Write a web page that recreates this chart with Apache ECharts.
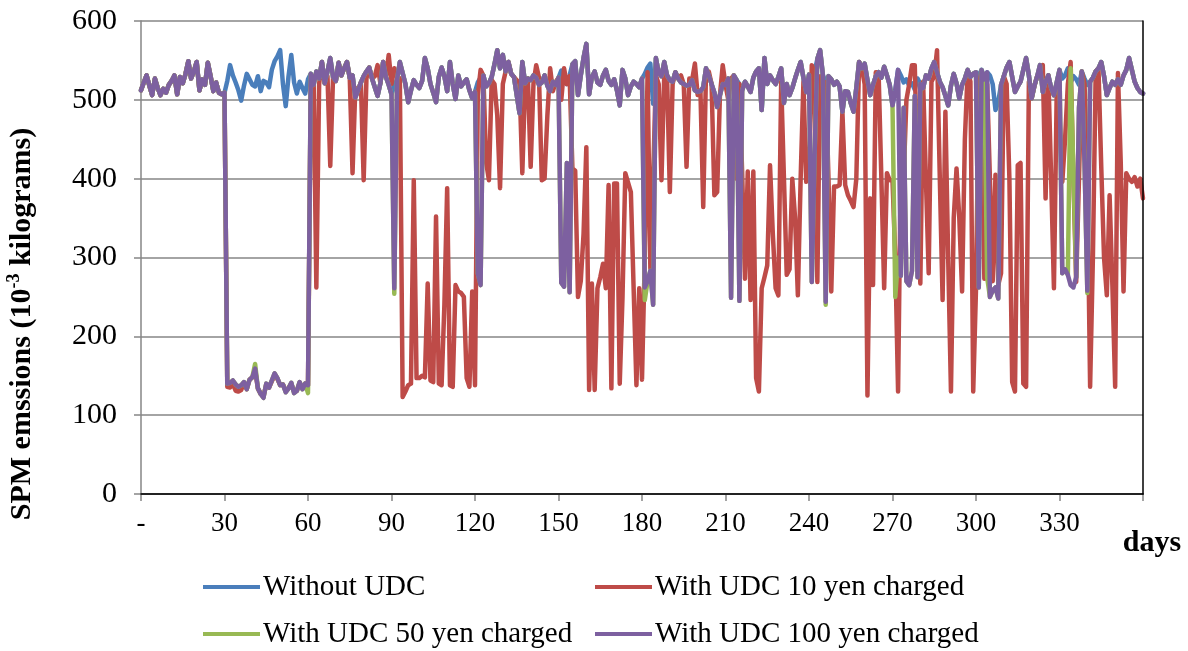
<!DOCTYPE html>
<html>
<head>
<meta charset="utf-8">
<title>SPM emissions by day</title>
<script src="https://cdn.jsdelivr.net/npm/echarts@6/dist/echarts.min.js"></script>
<style>
  html, body { margin: 0; padding: 0; background: #fff; }
  #chart { width: 1188px; height: 651px; }
</style>
</head>
<body>
<div id="chart"></div>
<script>
// Day index of each daily observation (0 .. 360)
const days = Array.from({ length: 361 }, (_, i) => i);

// Daily SPM emissions (10^-3 kg), one row per 30 days
const withoutUdc = [
  512, 522, 531, 518, 506, 527, 515, 506, 514, 509, 519, 524, 531, 507, 529, 521, 533, 549, 527, 536, 548, 512, 526, 519, 547, 530, 511, 522, 509, 507,
  509, 524, 544, 531, 522, 512, 499, 518, 533, 526, 519, 517, 530, 511, 524, 522, 516, 538, 549, 555, 563, 520, 492, 530, 557, 522, 508, 523, 515, 508,
  526, 533, 519, 536, 527, 548, 521, 536, 553, 529, 524, 547, 531, 540, 548, 528, 531, 503, 512, 522, 530, 536, 541, 527, 516, 505, 521, 548, 529, 519,
  507, 518, 526, 548, 534, 520, 497, 512, 525, 519, 515, 524, 553, 540, 520, 509, 497, 529, 541, 530, 511, 548, 520, 501, 531, 517, 522, 526, 512, 502,
  510, 522, 528, 531, 517, 521, 529, 545, 563, 540, 557, 536, 548, 533, 529, 506, 483, 548, 521, 527, 525, 531, 528, 519, 522, 531, 518, 511, 523, 519,
  528, 537, 526, 520, 531, 545, 549, 506, 531, 553, 571, 507, 529, 536, 522, 519, 531, 538, 524, 519, 526, 512, 493, 538, 527, 506, 517, 523, 520, 516,
  527, 533, 541, 546, 495, 553, 534, 530, 548, 531, 525, 523, 535, 527, 522, 520, 518, 519, 525, 512, 510, 511, 516, 540, 531, 520, 509, 491, 506, 520,
  519, 527, 522, 531, 525, 520, 512, 523, 517, 510, 528, 536, 540, 487, 553, 520, 531, 525, 520, 529, 540, 496, 520, 506, 515, 527, 538, 548, 528, 510,
  532, 526, 535, 552, 563, 531, 522, 530, 526, 519, 523, 517, 485, 511, 510, 496, 485, 515, 548, 540, 546, 525, 506, 519, 530, 535, 528, 542, 531, 519,
  493, 512, 538, 531, 522, 526, 518, 521, 513, 527, 520, 515, 531, 527, 540, 548, 535, 523, 516, 505, 493, 518, 533, 521, 502, 519, 527, 538, 529, 533,
  535, 531, 538, 526, 535, 531, 520, 487, 498, 519, 530, 541, 548, 529, 510, 517, 523, 538, 553, 531, 502, 518, 530, 544, 510, 523, 531, 515, 506, 522,
  538, 527, 531, 540, 522, 530, 526, 519, 536, 527, 519, 523, 528, 536, 540, 548, 530, 506, 515, 523, 519, 526, 519, 531, 538, 553, 538, 523, 515, 510, 508
];

const udc10yen = [
  512, 522, 531, 518, 506, 527, 515, 506, 514, 509, 519, 524, 531, 507, 529, 521, 533, 549, 527, 536, 548, 512, 526, 519, 547, 530, 511, 522, 509, 507,
  509, 136, 135, 140, 131, 130, 132, 141, 133, 145, 148, 157, 134, 127, 124, 139, 135, 143, 150, 146, 138, 139, 131, 134, 140, 130, 131, 141, 134, 140,
  138, 520, 530, 262, 520, 548, 521, 530, 416, 529, 524, 547, 531, 540, 548, 528, 407, 515, 512, 522, 398, 527, 541, 527, 530, 544, 521, 548, 530, 557,
  520, 540, 530, 527, 123, 130, 138, 140, 398, 147, 147, 150, 148, 267, 144, 142, 352, 140, 138, 240, 388, 138, 136, 265, 257, 255, 250, 147, 136, 257,
  138, 505, 538, 531, 421, 398, 525, 520, 480, 388, 520, 536, 548, 533, 529, 525, 520, 407, 521, 527, 415, 520, 544, 528, 398, 400, 480, 540, 511, 523,
  528, 500, 540, 520, 530, 413, 410, 250, 270, 330, 440, 132, 267, 132, 261, 275, 292, 261, 392, 134, 394, 394, 140, 250, 407, 395, 383, 260, 138, 261,
  145, 300, 535, 286, 400, 531, 520, 398, 533, 531, 383, 520, 535, 527, 531, 520, 415, 527, 525, 546, 506, 511, 364, 536, 536, 520, 379, 383, 506, 544,
  519, 500, 527, 531, 400, 520, 405, 273, 409, 246, 409, 147, 130, 261, 275, 290, 417, 330, 261, 252, 523, 400, 278, 285, 400, 350, 252, 400, 523, 396,
  400, 544, 535, 269, 530, 523, 522, 400, 257, 390, 390, 392, 485, 392, 379, 372, 364, 400, 548, 540, 520, 125, 375, 265, 535, 535, 400, 261, 407, 398,
  398, 300, 130, 420, 400, 500, 520, 544, 544, 400, 267, 523, 400, 280, 523, 530, 563, 400, 246, 485, 300, 130, 350, 413, 350, 257, 450, 536, 523, 130,
  260, 520, 535, 273, 520, 400, 270, 405, 265, 280, 530, 520, 400, 142, 130, 417, 420, 140, 136, 523, 502, 518, 530, 536, 544, 375, 531, 400, 261, 510,
  480, 396, 450, 520, 548, 400, 269, 400, 536, 520, 400, 136, 300, 536, 540, 415, 300, 252, 379, 265, 136, 534, 421, 257, 407, 400, 396, 402, 390, 400, 375
];

const udc50yen = [
  512, 522, 531, 518, 506, 527, 515, 506, 514, 509, 519, 524, 531, 507, 529, 521, 533, 549, 527, 536, 548, 512, 526, 519, 547, 530, 511, 522, 509, 507,
  509, 140, 141, 144, 139, 136, 138, 142, 133, 145, 148, 165, 134, 127, 122, 140, 135, 144, 153, 147, 138, 139, 129, 134, 141, 128, 131, 142, 133, 140,
  128, 533, 519, 536, 527, 548, 521, 536, 553, 529, 524, 547, 531, 540, 548, 528, 531, 503, 512, 522, 530, 536, 541, 527, 516, 505, 521, 548, 529, 519,
  507, 254, 526, 548, 534, 520, 497, 512, 525, 519, 515, 524, 553, 540, 520, 509, 497, 529, 541, 530, 511, 548, 520, 501, 531, 517, 522, 526, 512, 502,
  510, 280, 265, 531, 517, 521, 529, 545, 563, 540, 557, 536, 548, 533, 529, 506, 483, 548, 521, 527, 525, 531, 528, 519, 522, 531, 518, 511, 523, 519,
  528, 268, 263, 420, 256, 545, 549, 506, 531, 553, 571, 507, 529, 536, 522, 519, 531, 538, 524, 519, 526, 512, 493, 538, 527, 506, 517, 523, 520, 516,
  527, 246, 270, 283, 240, 553, 534, 530, 548, 531, 525, 523, 535, 527, 522, 520, 518, 519, 525, 512, 510, 511, 516, 540, 531, 520, 509, 491, 506, 520,
  519, 527, 249, 531, 525, 245, 512, 523, 517, 510, 528, 536, 540, 487, 553, 520, 531, 525, 520, 529, 540, 496, 520, 506, 515, 527, 538, 548, 528, 510,
  532, 269, 430, 552, 563, 531, 240, 530, 526, 519, 523, 517, 485, 511, 510, 496, 485, 515, 548, 540, 546, 525, 506, 519, 530, 535, 528, 542, 531, 519,
  493, 250, 300, 277, 490, 270, 265, 283, 505, 275, 520, 515, 531, 527, 540, 548, 535, 523, 516, 505, 493, 518, 533, 521, 502, 519, 527, 538, 529, 533,
  535, 262, 538, 526, 275, 250, 258, 262, 248, 519, 530, 541, 548, 529, 510, 517, 523, 538, 553, 531, 502, 518, 530, 544, 510, 523, 531, 515, 506, 522,
  538, 280, 285, 278, 540, 409, 275, 490, 536, 420, 255, 523, 528, 536, 540, 548, 530, 506, 515, 523, 519, 526, 519, 531, 538, 553, 538, 523, 515, 510, 508
];

const udc100yen = [
  512, 522, 531, 518, 506, 527, 515, 506, 514, 509, 519, 524, 531, 507, 529, 521, 533, 549, 527, 536, 548, 512, 526, 519, 547, 530, 511, 522, 509, 507,
  509, 140, 141, 144, 139, 136, 138, 142, 133, 145, 148, 159, 134, 127, 122, 140, 135, 144, 153, 147, 138, 139, 129, 134, 141, 128, 131, 142, 133, 140,
  138, 533, 519, 536, 527, 548, 521, 536, 553, 529, 524, 547, 531, 540, 548, 528, 531, 503, 512, 522, 530, 536, 541, 527, 516, 505, 521, 548, 529, 519,
  507, 261, 526, 548, 534, 520, 497, 512, 525, 519, 515, 524, 553, 540, 520, 509, 497, 529, 541, 530, 511, 548, 520, 501, 531, 517, 522, 526, 512, 502,
  510, 280, 265, 531, 517, 521, 529, 545, 563, 540, 557, 536, 548, 533, 529, 506, 483, 548, 521, 527, 525, 531, 528, 519, 522, 531, 518, 511, 523, 519,
  528, 268, 263, 420, 256, 545, 549, 506, 531, 553, 571, 507, 529, 536, 522, 519, 531, 538, 524, 519, 526, 512, 493, 538, 527, 506, 517, 523, 520, 516,
  527, 262, 270, 283, 240, 553, 534, 530, 548, 531, 525, 523, 535, 527, 522, 520, 518, 519, 525, 512, 510, 511, 516, 540, 531, 520, 509, 491, 506, 520,
  519, 527, 249, 531, 525, 245, 512, 523, 517, 510, 528, 536, 540, 487, 553, 520, 531, 525, 520, 529, 540, 496, 520, 506, 515, 527, 538, 548, 528, 510,
  532, 269, 430, 552, 563, 531, 244, 530, 526, 519, 523, 517, 485, 511, 510, 496, 485, 515, 548, 540, 546, 525, 506, 519, 530, 535, 528, 542, 531, 519,
  493, 512, 538, 277, 490, 270, 265, 283, 505, 275, 520, 515, 531, 527, 540, 548, 535, 523, 516, 505, 493, 518, 533, 521, 502, 519, 527, 538, 529, 533,
  535, 262, 538, 526, 535, 250, 258, 262, 248, 519, 530, 541, 548, 529, 510, 517, 523, 538, 553, 531, 502, 518, 530, 544, 510, 523, 531, 515, 506, 522,
  538, 280, 285, 278, 265, 262, 275, 490, 536, 420, 258, 523, 528, 536, 540, 548, 530, 506, 515, 523, 519, 526, 519, 531, 538, 553, 538, 523, 515, 510, 508
];

const seriesNames = ['Without UDC', 'With UDC 10 yen charged', 'With UDC 50 yen charged', 'With UDC 100 yen charged'];
const seriesColors = ['#4A7EBB', '#BE4B48', '#98B954', '#7D60A0'];
const seriesValues = [withoutUdc, udc10yen, udc50yen, udc100yen];

const serif = '"Liberation Serif", "Times New Roman", serif';
const axisGray = '#868686';

// One legend block per entry: two columns, two rows under the plot
const legendSlots = [
  { left: 203, top: 572 },
  { left: 595, top: 572 },
  { left: 203, top: 619 },
  { left: 595, top: 619 }
];

const chart = echarts.init(document.getElementById('chart'), null, { renderer: 'canvas' });

chart.setOption({
  animation: false,
  backgroundColor: '#ffffff',
  grid: { left: 141, right: 45, top: 21, bottom: 157, containLabel: false },
  xAxis: [{
    type: 'category',
    data: days,
    boundaryGap: false,
    axisLine: { lineStyle: { color: axisGray, width: 1.5 } },
    axisTick: { interval: 29, length: 7, lineStyle: { color: axisGray, width: 1.5 } },
    axisLabel: {
      interval: 29,
      margin: 16,
      color: '#000',
      fontFamily: serif,
      fontSize: 27,
      formatter: v => (Number(v) === 0 ? '-' : (Number(v) === 360 ? '' : String(v)))
    },
    splitLine: { show: false }
  }, {
    type: 'category',
    data: days,
    position: 'top',
    boundaryGap: false,
    z: 5,
    axisLine: { lineStyle: { color: '#000', width: 1.5 } },
    axisTick: { show: false },
    axisLabel: { show: false },
    splitLine: { show: false }
  }],
  yAxis: [{
    type: 'value',
    min: 0,
    max: 600,
    interval: 100,
    axisLine: { show: true, lineStyle: { color: axisGray, width: 1.5 } },
    axisTick: { show: true, length: 7, lineStyle: { color: axisGray, width: 1.5 } },
    axisLabel: { margin: 24, color: '#000', fontFamily: serif, fontSize: 30 },
    splitLine: { lineStyle: { color: axisGray, width: 1.5 } }
  }, {
    type: 'value',
    position: 'right',
    min: 0,
    max: 600,
    interval: 100,
    z: 5,
    axisLine: { show: true, lineStyle: { color: '#000', width: 1.5 } },
    axisTick: { show: false },
    axisLabel: { show: false },
    splitLine: { show: false }
  }],
  legend: seriesNames.map((name, i) => ({
    data: [name],
    left: legendSlots[i].left,
    top: legendSlots[i].top,
    padding: 0,
    icon: 'rect',
    itemWidth: 57,
    itemHeight: 4,
    itemGap: 0,
    textStyle: { fontFamily: serif, fontSize: 29, color: '#000', lineHeight: 30, padding: [0, 0, 0, -2] }
  })),
  graphic: [{
    type: 'text',
    x: 22,
    y: 324,
    rotation: Math.PI / 2,
    style: {
      text: '{b|SPM emssions (10}{s|-3}{b| kilograms)}',
      align: 'center',
      verticalAlign: 'middle',
      rich: {
        b: { fontFamily: serif, fontSize: 30, fontWeight: 'bold', fill: '#000', lineHeight: 34 },
        s: { fontFamily: serif, fontSize: 18, fontWeight: 'bold', fill: '#000', lineHeight: 34, verticalAlign: 'top', padding: [0, 0, 12, 0] }
      }
    }
  }, {
    type: 'text',
    x: 1152,
    y: 543,
    style: {
      text: 'days',
      align: 'center',
      verticalAlign: 'middle',
      fontFamily: serif,
      fontSize: 30,
      fontWeight: 'bold',
      fill: '#000'
    }
  }],
  series: seriesNames.map((name, i) => ({
    name,
    type: 'line',
    data: seriesValues[i],
    xAxisIndex: 0,
    yAxisIndex: 0,
    symbol: 'none',
    smooth: false,
    color: seriesColors[i],
    lineStyle: { width: 4.5, color: seriesColors[i], join: 'round', cap: 'round' }
  }))
});
</script>
</body>
</html>
